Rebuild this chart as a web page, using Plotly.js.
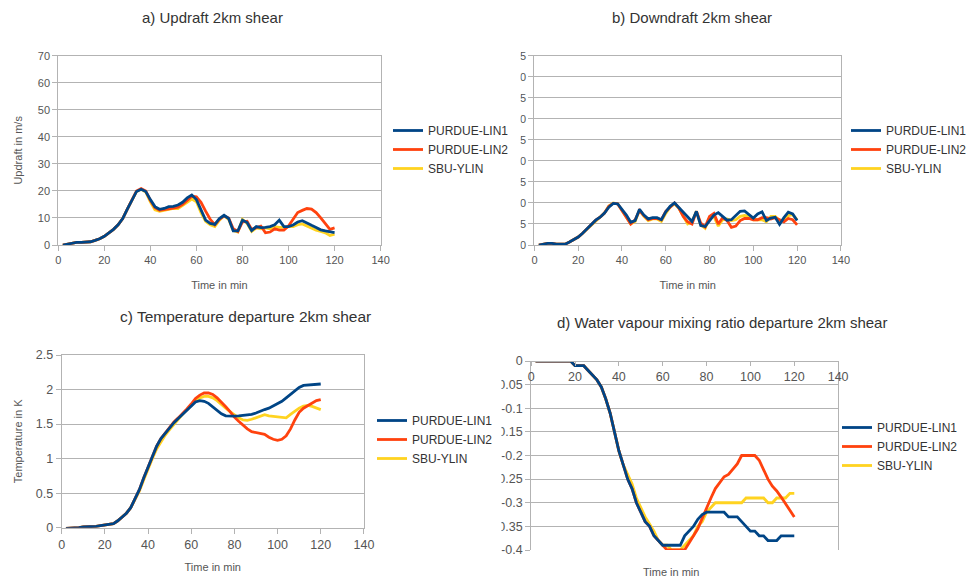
<!DOCTYPE html>
<html>
<head>
<meta charset="utf-8">
<script src="https://cdn.plot.ly/plotly-3.0.1.min.js"></script>
<style>html,body{margin:0;padding:0;background:#fff;}#chart{width:972px;height:582px;}</style>
</head>
<body>
<div id="chart"></div>
<script>
// ---- data ----
const seriesNames = ["PURDUE-LIN1", "PURDUE-LIN2", "SBU-YLIN"];
const timeMin = [2,4,6,8,10,12,14,16,18,20,22,24,26,28,30,32,34,36,38,40,
  42,44,46,48,50,52,54,56,58,60,62,64,66,68,70,72,74,76,78,80,
  82,84,86,88,90,92,94,96,98,100,102,104,106,108,110,112,114,116,118,120];

// a) Updraft (m/s)
const updraftLin1 = [0,0.3,0.7,1.0,1.0,1.0,1.2,1.7,2.3,3.2,4.5,5.8,7.5,9.8,13.3,16.8,19.8,20.6,19.8,16.8,
  14.2,13.2,13.5,14.2,14.3,14.8,15.8,17.4,18.5,16.8,12.8,9.2,8.0,7.6,9.8,11.0,9.8,5.2,5.2,9.2,
  8.3,5.3,6.8,6.4,6.5,6.8,7.5,9.2,6.8,6.8,7.4,8.5,9.0,8.0,7.3,6.5,5.6,5.2,4.9,4.6];
const updraftLin2 = [0,0.3,0.7,1.0,1.0,1.0,1.2,1.7,2.3,3.2,4.5,5.8,7.5,9.8,13.3,16.9,20.0,20.9,20.0,16.5,
  13.8,12.8,13.0,13.4,13.6,14.0,15.0,16.5,18.0,17.8,15.8,12.5,9.5,7.5,9.5,10.8,10.0,6.0,5.0,8.5,
  8.8,5.8,6.5,7.0,4.5,4.8,6.0,5.5,5.5,7.0,9.5,12.0,12.8,13.5,13.3,12.0,10.0,7.8,5.8,6.3];
const updraftYlin = [0,0.3,0.7,1.0,1.0,1.0,1.2,1.7,2.3,3.2,4.5,5.8,7.5,9.8,13.3,16.8,19.8,20.6,19.6,16.0,
  13.0,12.5,12.8,13.0,13.5,13.5,14.5,15.8,17.0,16.0,12.0,8.8,7.5,6.8,9.2,10.8,9.5,5.3,4.8,9.5,
  8.0,5.0,6.3,6.0,6.3,6.0,6.8,6.5,6.5,6.8,6.8,7.5,7.8,7.0,6.5,5.5,5.0,4.5,3.5,4.0];

// b) Downdraft
const downLin1 = [0,0.2,0.4,0.4,0.2,0.2,0.2,0.7,1.3,1.9,2.8,3.8,4.8,5.9,6.6,7.6,9.0,9.9,9.8,8.5,
  7.1,5.4,5.8,8.5,7.1,6.2,6.5,6.5,6.0,7.9,9.2,10.0,8.9,7.6,6.5,5.6,8.0,4.6,4.4,5.8,
  7.1,7.7,6.9,5.9,6.0,7.0,8.0,8.1,7.2,6.4,7.4,7.9,5.8,6.4,6.6,4.9,6.5,7.8,7.4,5.8];
const downLin2 = [0,0.2,0.4,0.4,0.2,0.2,0.2,0.7,1.3,1.9,2.8,3.8,4.8,5.9,6.6,7.6,9.2,9.9,9.8,8.2,
  6.8,5.0,6.0,8.2,7.0,6.0,6.3,6.3,6.0,8.0,9.0,10.0,8.8,6.8,5.5,5.0,8.0,5.2,4.3,6.8,
  7.5,5.0,6.5,5.8,4.2,4.5,5.8,6.3,6.3,6.0,6.0,6.5,6.5,6.2,6.5,6.0,5.5,6.3,6.0,4.8];
const downYlin = [0,0.2,0.4,0.4,0.2,0.2,0.2,0.7,1.3,1.9,2.8,3.8,4.6,5.7,6.6,7.6,9.3,10.0,9.8,8.3,
  6.8,5.0,5.6,8.3,6.8,5.8,6.2,6.2,5.6,7.5,9.0,9.8,8.7,7.0,5.0,5.5,8.0,4.8,4.0,6.5,
  6.8,4.5,6.0,6.2,5.8,6.0,6.8,7.0,6.8,6.0,6.0,6.0,5.5,6.8,6.8,5.8,6.0,7.0,7.2,6.0];

// c) Temperature departure (K)
const tempLin1 = [-0.01,-0.01,0.0,0.0,0.01,0.01,0.02,0.02,0.03,0.04,0.05,0.06,0.1,0.15,0.21,0.29,0.41,0.55,0.72,0.88,
  1.04,1.18,1.29,1.37,1.45,1.52,1.58,1.64,1.7,1.77,1.82,1.84,1.83,1.8,1.75,1.69,1.65,1.62,1.615,1.615,
  1.62,1.625,1.63,1.64,1.66,1.69,1.71,1.73,1.76,1.79,1.83,1.88,1.93,1.98,2.03,2.06,2.065,2.07,2.08,2.08];
const tempLin2 = [-0.01,-0.01,0.0,0.0,0.01,0.01,0.02,0.02,0.03,0.04,0.05,0.06,0.1,0.15,0.21,0.29,0.41,0.55,0.72,0.88,
  1.04,1.18,1.29,1.37,1.46,1.53,1.59,1.65,1.72,1.79,1.87,1.92,1.95,1.95,1.93,1.88,1.82,1.75,1.68,1.6,
  1.54,1.48,1.43,1.39,1.38,1.37,1.35,1.31,1.28,1.265,1.28,1.33,1.43,1.56,1.67,1.73,1.77,1.81,1.84,1.855];
const tempYlin = [-0.01,-0.01,0.0,0.0,0.01,0.01,0.02,0.02,0.03,0.04,0.05,0.06,0.1,0.15,0.21,0.29,0.4,0.53,0.69,0.85,
  1.0,1.14,1.25,1.34,1.42,1.5,1.57,1.64,1.71,1.78,1.84,1.88,1.9,1.9,1.88,1.84,1.78,1.73,1.68,1.63,
  1.59,1.56,1.555,1.57,1.59,1.62,1.635,1.62,1.61,1.6,1.59,1.59,1.64,1.69,1.73,1.76,1.77,1.755,1.73,1.71];

// d) Water vapour mixing ratio departure
const qvLin1 = [0,0,0,0,0,0,0,0,0,-0.01,-0.01,-0.01,-0.02,-0.03,-0.04,-0.055,-0.08,-0.11,-0.15,-0.19,
  -0.22,-0.25,-0.27,-0.30,-0.32,-0.34,-0.35,-0.37,-0.38,-0.39,-0.39,-0.39,-0.39,-0.39,-0.37,-0.36,-0.35,-0.335,-0.325,-0.32,
  -0.32,-0.32,-0.32,-0.32,-0.33,-0.33,-0.33,-0.34,-0.35,-0.36,-0.36,-0.37,-0.37,-0.38,-0.38,-0.38,-0.37,-0.37,-0.37,-0.37];
const qvLin2 = [0,0,0,0,0,0,0,0,0,-0.01,-0.01,-0.01,-0.02,-0.03,-0.04,-0.055,-0.08,-0.11,-0.15,-0.19,
  -0.22,-0.25,-0.27,-0.30,-0.32,-0.34,-0.35,-0.37,-0.38,-0.39,-0.40,-0.40,-0.40,-0.40,-0.40,-0.385,-0.37,-0.355,-0.333,-0.31,
  -0.29,-0.27,-0.257,-0.245,-0.24,-0.228,-0.218,-0.20,-0.20,-0.20,-0.20,-0.21,-0.23,-0.25,-0.265,-0.275,-0.288,-0.303,-0.317,-0.33];
const qvYlin = [0,0,0,0,0,0,0,0,0,-0.01,-0.01,-0.01,-0.02,-0.03,-0.04,-0.055,-0.08,-0.11,-0.15,-0.19,
  -0.22,-0.24,-0.26,-0.29,-0.31,-0.33,-0.345,-0.36,-0.38,-0.39,-0.39,-0.40,-0.40,-0.40,-0.39,-0.38,-0.37,-0.35,-0.34,-0.32,
  -0.31,-0.30,-0.30,-0.30,-0.30,-0.30,-0.30,-0.30,-0.29,-0.29,-0.29,-0.29,-0.29,-0.30,-0.30,-0.29,-0.29,-0.29,-0.28,-0.28];

// tick labels
const xTicks = [0,20,40,60,80,100,120,140];
const updraftTicks = [0,10,20,30,40,50,60,70];
const downTicks = [0,5,10,15,20,25,30,35,40,45];
const tempTicks = [0,0.5,1,1.5,2,2.5];
const tempTickText = ["0","0.5","1","1.5","2","2.5"];
const qvTicks = [0,-0.05,-0.1,-0.15,-0.2,-0.25,-0.3,-0.35,-0.4];
const qvTickText = ["0","-0.05","-0.1","-0.15","-0.2","-0.25","-0.3","-0.35","-0.4"];

// ---- styling ----
const W = 972, H = 582;
const colors = ["#004586", "#ff420e", "#ffd320"];
const FONT = "Liberation Sans, Arial, sans-serif";
const px = v => v / W, py = v => 1 - v / H;

const panels = [
  {x: "x", y: "y", legend: "legend", data: [updraftLin1, updraftLin2, updraftYlin]},
  {x: "x2", y: "y2", legend: "legend2", data: [downLin1, downLin2, downYlin]},
  {x: "x3", y: "y3", legend: "legend3", data: [tempLin1, tempLin2, tempYlin]},
  {x: "x4", y: "y4", legend: "legend4", data: [qvLin1, qvLin2, qvYlin]}
];

const traces = [];
panels.forEach(p => {
  [2, 1, 0].forEach(i => {   // blue drawn last (on top)
    traces.push({
      type: "scatter", mode: "lines", name: seriesNames[i],
      x: timeMin, y: p.data[i], xaxis: p.x, yaxis: p.y, legend: p.legend,
      line: {color: colors[i], width: 2.8}
    });
  });
});

const gridC = "#b3b3b3";
const tickFontS = {family: FONT, size: 11, color: "#555"};
const tickFontL = {family: FONT, size: 12.5, color: "#555"};
const titleFont = {family: FONT, size: 11, color: "#555"};
function xAx(d0, d1, anchor, extra) {
  return Object.assign({
    domain: [px(d0), px(d1)], anchor: anchor, range: [0, 140], tickvals: xTicks,
    showgrid: false, zeroline: false, showline: true, mirror: true, linecolor: gridC, linewidth: 1,
    ticks: "outside", ticklen: 5, tickcolor: gridC, tickfont: tickFontS, fixedrange: true
  }, extra || {});
}
function yAx(top, bottom, anchor, extra) {
  return Object.assign({
    domain: [py(bottom), py(top)], anchor: anchor,
    showgrid: true, gridcolor: gridC, gridwidth: 1, zeroline: false,
    showline: true, mirror: true, linecolor: gridC, linewidth: 1,
    ticks: "outside", ticklen: 5, tickcolor: gridC, tickfont: tickFontS, fixedrange: true
  }, extra || {});
}

function legendAt(x, yTop) {
  return {x: px(x), y: py(yTop), xanchor: "left", yanchor: "top", bgcolor: "rgba(0,0,0,0)",
    font: {family: FONT, size: 12, color: "#333"}, traceorder: "reversed", itemclick: false, itemdoubleclick: false};
}

const layout = {
  width: W, height: H, margin: {l: 0, r: 0, t: 0, b: 0},
  paper_bgcolor: "#fff", plot_bgcolor: "#fff", showlegend: true, hovermode: false,
  font: {family: FONT, color: "#444"},
  xaxis: xAx(58.3, 381, "y", {title: {text: "Time in min", font: titleFont, standoff: 16}}),
  yaxis: yAx(55.7, 245, "x", {range: [0, 70], tickvals: updraftTicks,
    title: {text: "Updraft in m/s", font: titleFont, standoff: 12}}),
  xaxis2: xAx(535, 841.7, "y2", {title: {text: "Time in min", font: titleFont, standoff: 16}}),
  yaxis2: yAx(55.7, 245, "x2", {range: [0, 45], tickvals: downTicks}),
  xaxis3: xAx(61.7, 364.3, "y3", {tickfont: tickFontL, title: {text: "Time in min", font: titleFont, standoff: 12}}),
  yaxis3: yAx(355, 527.7, "x3", {range: [0, 2.5], tickvals: tempTicks, ticktext: tempTickText, tickfont: tickFontL,
    title: {text: "Temperature in K", font: titleFont, standoff: 10}}),
  // panel d: x axis crosses at y = 0 (top of the plot), labels hang below that line
  xaxis4: xAx(531.7, 839, "free", {position: py(361), side: "bottom", ticks: "outside", ticklen: 4, tickfont: tickFontL}),
  yaxis4: yAx(361, 550, "x4", {range: [-0.4, 0], tickvals: qvTicks, ticktext: qvTickText, tickfont: tickFontL}),
  legend: legendAt(388, 116),
  legend2: legendAt(847, 116),
  legend3: legendAt(372, 406),
  legend4: legendAt(837, 413),
  shapes: [
    // the reference's panel images crop the left part of these tick labels
    {type: "rect", xref: "paper", yref: "paper", layer: "above", x0: px(505), x1: px(521), y0: py(252), y1: py(48),
      fillcolor: "#fff", line: {width: 0}},
    {type: "rect", xref: "paper", yref: "paper", layer: "above", x0: px(488), x1: px(502), y0: py(560), y1: py(352),
      fillcolor: "#fff", line: {width: 0}}
  ],
  annotations: [
    {text: "a) Updraft 2km shear", x: px(213), y: py(17), font: {family: FONT, size: 15, color: "#333"}},
    {text: "b) Downdraft 2km shear", x: px(693), y: py(17), font: {family: FONT, size: 15, color: "#333"}},
    {text: "c) Temperature departure 2km shear", x: px(246), y: py(316), font: {family: FONT, size: 15.5, color: "#333"}},
    {text: "d) Water vapour mixing ratio departure 2km shear", x: px(723), y: py(322), font: {family: FONT, size: 15, color: "#333"}},
    {text: "Time in min", x: px(672), y: py(572), font: titleFont}
  ].map(a => Object.assign({xref: "paper", yref: "paper", showarrow: false, xanchor: "center", yanchor: "middle"}, a))
};

Plotly.newPlot("chart", traces, layout, {displayModeBar: false, staticPlot: true});
</script>
</body>
</html>
